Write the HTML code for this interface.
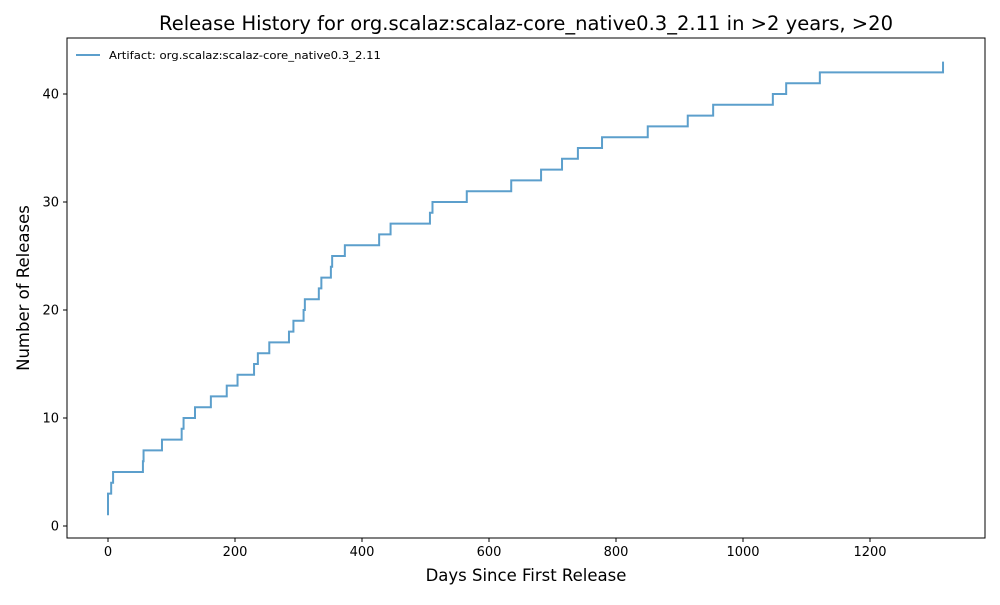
<!DOCTYPE html>
<html><head><meta charset="utf-8"><style>
body{margin:0;background:#fff;}
svg text{font-family:"DejaVu Sans","Liberation Sans",sans-serif;fill:#000;}
</style></head><body>
<svg id="chart" width="1000" height="600">
<rect width="1000" height="600" fill="#fff"/>
<text x="526" y="30" font-size="19.5" text-anchor="middle" textLength="734" lengthAdjust="spacingAndGlyphs">Release History for org.scalaz:scalaz-core_native0.3_2.11 in &gt;2 years, &gt;20</text>
<g id="plot"></g>
<rect x="67" y="38" width="918" height="500" fill="none" stroke="#000" stroke-width="1"/>
<text x="526" y="581" font-size="16.5" text-anchor="middle">Days Since First Release</text>
<text x="29" y="288" font-size="16.5" text-anchor="middle" transform="rotate(-90 29 288)">Number of Releases</text>
<g>
<line x1="76" y1="55" x2="100" y2="55" stroke="#5c9fcc" stroke-width="2"/>
<text x="109" y="59" font-size="11" textLength="272" lengthAdjust="spacingAndGlyphs">Artifact: org.scalaz:scalaz-core_native0.3_2.11</text>
</g>
</svg>
<script>
const days=[0,0,0,5,8,55,56,85,116,119,137,162,187,204,230,236,254,285,292,308,310,332,336,351,353,373,427,445,507,511,565,635,682,715,740,778,850,913,953,1047,1068,1121,1315];
const counts=[1,2,3,4,5,6,7,8,9,10,11,12,13,14,15,16,17,18,19,20,21,22,23,24,25,26,27,28,29,30,31,32,33,34,35,36,37,38,39,40,41,42,43];
const xTicks=[0,200,400,600,800,1000,1200];
const yTicks=[0,10,20,30,40];
const X=d=>108+d*0.635;
const Y=c=>526-c*10.8;
const ns="http://www.w3.org/2000/svg";
const g=document.getElementById('plot');
xTicks.forEach(t=>{
 const l=document.createElementNS(ns,'line');
 
 
 l.setAttribute('x1',X(t));l.setAttribute('x2',X(t));l.setAttribute('y1',538);l.setAttribute('y2',542);l.setAttribute('stroke','#000');
 g.appendChild(l);
 const tx=document.createElementNS(ns,'text');
 
 
 tx.setAttribute('x',X(t));tx.setAttribute('y',556);tx.setAttribute('font-size','13');tx.setAttribute('text-anchor','middle');
 tx.textContent=t;g.appendChild(tx);
});
yTicks.forEach(t=>{
 const l=document.createElementNS(ns,'line');
 
 
 l.setAttribute('x1',63);l.setAttribute('x2',67);l.setAttribute('y1',Y(t));l.setAttribute('y2',Y(t));l.setAttribute('stroke','#000');
 g.appendChild(l);
 const tx=document.createElementNS(ns,'text');
 
 
 tx.setAttribute('x',59);tx.setAttribute('y',Y(t)+4.5);tx.setAttribute('font-size','13');tx.setAttribute('text-anchor','end');
 tx.textContent=t;g.appendChild(tx);
});
let d='M'+X(days[0])+','+Y(counts[0]);
for(let i=1;i<days.length;i++){d+=' H'+X(days[i])+' V'+Y(counts[i]);}
const p=document.createElementNS(ns,'path');


p.setAttribute('d',d);p.setAttribute('fill','none');p.setAttribute('stroke','#5c9fcc');p.setAttribute('stroke-width','2');
g.appendChild(p);
</script>
</body></html>
